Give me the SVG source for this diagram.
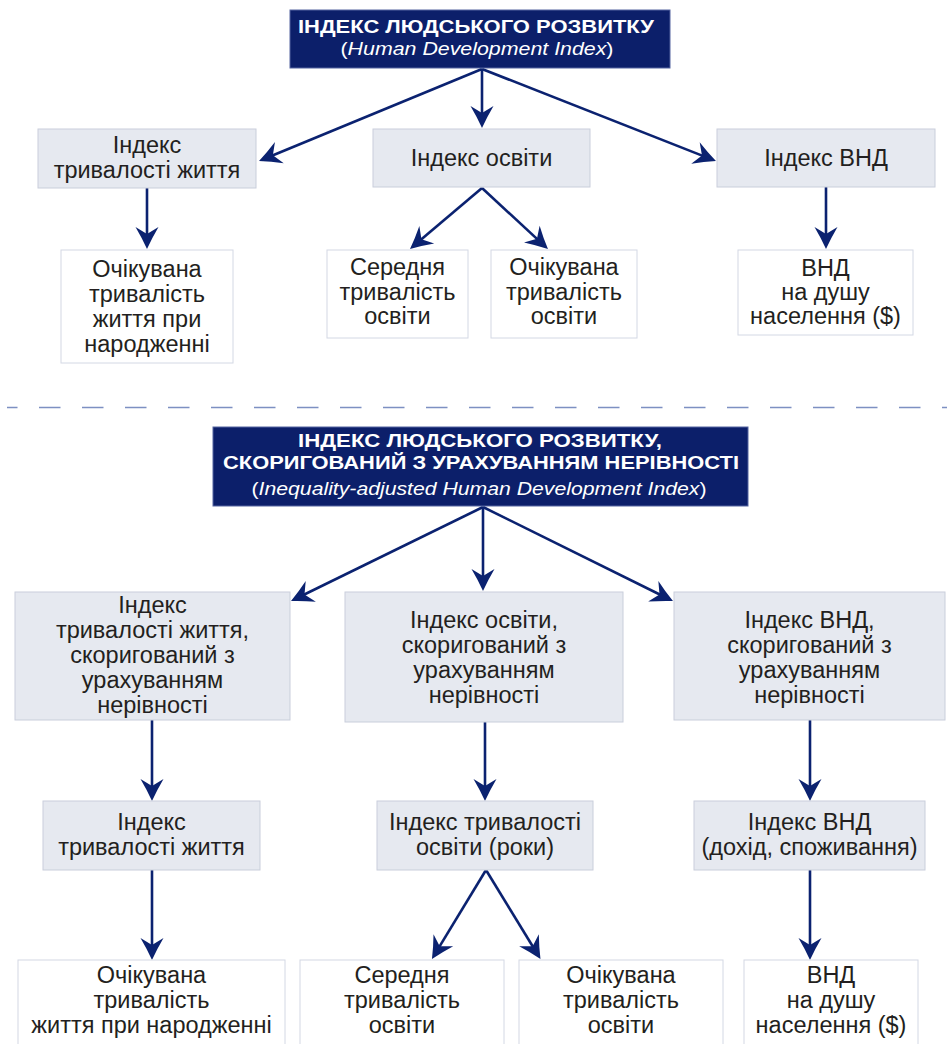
<svg xmlns="http://www.w3.org/2000/svg" width="947" height="1044" viewBox="0 0 947 1044">
<style>
.title{fill:#0c1f6a;stroke:#5565a0;stroke-width:1}
.gray{fill:#e6e9f0;stroke:#c9cedb;stroke-width:1}
.white{fill:#ffffff;stroke:#d3d8e4;stroke-width:1}
.tb{font-family:"Liberation Sans",Arial,sans-serif;font-weight:bold;font-size:19px;fill:#ffffff;text-anchor:middle}
.tb2{font-family:"Liberation Sans",Arial,sans-serif;font-weight:bold;font-size:18px;fill:#ffffff;text-anchor:middle}
.ti{font-family:"Liberation Sans",Arial,sans-serif;font-size:19px;fill:#ffffff;text-anchor:middle}
.it{font-style:italic}
.t{font-family:"Liberation Sans",Arial,sans-serif;font-size:23.5px;fill:#231f20;text-anchor:middle}
.c{fill:none;stroke:#0b2270;stroke-width:2.6}
.sep{fill:none;stroke:#7d90c2;stroke-width:1.6;stroke-dasharray:21.5 21.5;stroke-dashoffset:11}
</style>
<defs>
<marker id="ah" markerUnits="userSpaceOnUse" viewBox="-16 -12 26 24" refX="0" refY="0" markerWidth="26" markerHeight="24" orient="auto">
<path d="M8,0 Q-3,-5 -14,-11.5 L-7,0 L-14,11.5 Q-3,5 8,0 Z" fill="#0b2270"/>
</marker>
</defs>
<rect width="947" height="1044" fill="#ffffff"/>

<g id="connectors">
<line class="c" x1="482" y1="69" x2="266.4" y2="158" marker-end="url(#ah)"/>
<line class="c" x1="482" y1="69" x2="482" y2="120" marker-end="url(#ah)"/>
<line class="c" x1="482" y1="69" x2="708.5" y2="158.1" marker-end="url(#ah)"/>
<line class="c" x1="147" y1="188" x2="147" y2="241" marker-end="url(#ah)"/>
<line class="c" x1="482" y1="188" x2="416.1" y2="243.8" marker-end="url(#ah)"/>
<line class="c" x1="482" y1="188" x2="542.1" y2="243.6" marker-end="url(#ah)"/>
<line class="c" x1="826" y1="187" x2="826" y2="241" marker-end="url(#ah)"/>
<line class="sep" x1="7" y1="407.5" x2="947" y2="407.5"/>
<line class="c" x1="483" y1="507" x2="298.2" y2="597.5" marker-end="url(#ah)"/>
<line class="c" x1="483" y1="507" x2="483" y2="583" marker-end="url(#ah)"/>
<line class="c" x1="483" y1="507" x2="665.8" y2="597.5" marker-end="url(#ah)"/>
<line class="c" x1="152" y1="720" x2="152" y2="793" marker-end="url(#ah)"/>
<line class="c" x1="485" y1="722" x2="485" y2="793" marker-end="url(#ah)"/>
<line class="c" x1="810" y1="720" x2="810" y2="793" marker-end="url(#ah)"/>
<line class="c" x1="152" y1="870" x2="152" y2="952" marker-end="url(#ah)"/>
<line class="c" x1="486" y1="870" x2="436.1" y2="952.2" marker-end="url(#ah)"/>
<line class="c" x1="486" y1="870" x2="536.3" y2="952.2" marker-end="url(#ah)"/>
<line class="c" x1="810" y1="870" x2="810" y2="952" marker-end="url(#ah)"/>
</g>

<g id="hdi">
<rect class="title" x="290" y="10" width="380" height="58"/>
<text class="tb" x="476" y="33" textLength="356" lengthAdjust="spacingAndGlyphs">ІНДЕКС ЛЮДСЬКОГО РОЗВИТКУ</text>
<text class="ti" x="477" y="55" textLength="273" lengthAdjust="spacingAndGlyphs">(<tspan class="it">Human Development Index</tspan>)</text>
</g>
<g id="life">
<rect class="gray" x="38" y="129" width="218" height="59"/>
<text class="t" x="147" y="153">Індекс</text>
<text class="t" x="147" y="178">тривалості життя</text>
</g>
<g id="edu">
<rect class="gray" x="373" y="129" width="217" height="58"/>
<text class="t" x="481.5" y="166">Індекс освіти</text>
</g>
<g id="gni">
<rect class="gray" x="717" y="129" width="218" height="58"/>
<text class="t" x="826" y="166">Індекс ВНД</text>
</g>
<g id="lifeexp">
<rect class="white" x="61" y="250" width="172" height="113"/>
<text class="t" x="147" y="277">Очікувана</text>
<text class="t" x="147" y="302">тривалість</text>
<text class="t" x="147" y="327">життя при</text>
<text class="t" x="147" y="352">народженні</text>
</g>
<g id="meanedu">
<rect class="white" x="327" y="250" width="141" height="88"/>
<text class="t" x="397.5" y="275">Середня</text>
<text class="t" x="397.5" y="299.5">тривалість</text>
<text class="t" x="397.5" y="324">освіти</text>
</g>
<g id="expedu">
<rect class="white" x="491" y="250" width="146" height="88"/>
<text class="t" x="564" y="275">Очікувана</text>
<text class="t" x="564" y="299.5">тривалість</text>
<text class="t" x="564" y="324">освіти</text>
</g>
<g id="gnipc">
<rect class="white" x="738" y="250" width="175" height="85"/>
<text class="t" x="825.5" y="276">ВНД</text>
<text class="t" x="825.5" y="300">на душу</text>
<text class="t" x="825.5" y="324">населення ($)</text>
</g>

<g id="ihdi">
<rect class="title" x="213" y="427" width="535" height="79"/>
<text class="tb2" x="480" y="447" textLength="364" lengthAdjust="spacingAndGlyphs">ІНДЕКС ЛЮДСЬКОГО РОЗВИТКУ,</text>
<text class="tb2" x="481" y="469" textLength="516" lengthAdjust="spacingAndGlyphs">СКОРИГОВАНИЙ З УРАХУВАННЯМ НЕРІВНОСТІ</text>
<text class="ti" x="479" y="495" textLength="455" lengthAdjust="spacingAndGlyphs">(<tspan class="it">Inequality-adjusted Human Development Index</tspan>)</text>
</g>
<g id="lifeadj">
<rect class="gray" x="15" y="592" width="275" height="128"/>
<text class="t" x="152.5" y="613">Індекс</text>
<text class="t" x="152.5" y="638">тривалості життя,</text>
<text class="t" x="152.5" y="663">скоригований з</text>
<text class="t" x="152.5" y="688">урахуванням</text>
<text class="t" x="152.5" y="713">нерівності</text>
</g>
<g id="eduadj">
<rect class="gray" x="345" y="592" width="278" height="130"/>
<text class="t" x="484" y="628">Індекс освіти,</text>
<text class="t" x="484" y="653">скоригований з</text>
<text class="t" x="484" y="678">урахуванням</text>
<text class="t" x="484" y="703">нерівності</text>
</g>
<g id="gniadj">
<rect class="gray" x="674" y="592" width="271" height="128"/>
<text class="t" x="809.5" y="628">Індекс ВНД,</text>
<text class="t" x="809.5" y="653">скоригований з</text>
<text class="t" x="809.5" y="678">урахуванням</text>
<text class="t" x="809.5" y="703">нерівності</text>
</g>
<g id="lifeidx">
<rect class="gray" x="43" y="801" width="217" height="69"/>
<text class="t" x="151.5" y="830">Індекс</text>
<text class="t" x="151.5" y="855">тривалості життя</text>
</g>
<g id="eduyears">
<rect class="gray" x="377" y="801" width="216" height="69"/>
<text class="t" x="485" y="830">Індекс тривалості</text>
<text class="t" x="485" y="855">освіти (роки)</text>
</g>
<g id="gniinc">
<rect class="gray" x="694" y="801" width="231" height="69"/>
<text class="t" x="809.5" y="830">Індекс ВНД</text>
<text class="t" x="809.5" y="855">(дохід, споживання)</text>
</g>
<g id="lifeexp2">
<rect class="white" x="18" y="960" width="267" height="100"/>
<text class="t" x="151.5" y="983">Очікувана</text>
<text class="t" x="151.5" y="1008">тривалість</text>
<text class="t" x="151.5" y="1033">життя при народженні</text>
</g>
<g id="meanedu2">
<rect class="white" x="300" y="960" width="204" height="100"/>
<text class="t" x="402" y="983">Середня</text>
<text class="t" x="402" y="1008">тривалість</text>
<text class="t" x="402" y="1033">освіти</text>
</g>
<g id="expedu2">
<rect class="white" x="519" y="960" width="204" height="100"/>
<text class="t" x="621" y="983">Очікувана</text>
<text class="t" x="621" y="1008">тривалість</text>
<text class="t" x="621" y="1033">освіти</text>
</g>
<g id="gnipc2">
<rect class="white" x="744" y="960" width="174" height="100"/>
<text class="t" x="831" y="983">ВНД</text>
<text class="t" x="831" y="1008">на душу</text>
<text class="t" x="831" y="1033">населення ($)</text>
</g>
</svg>
